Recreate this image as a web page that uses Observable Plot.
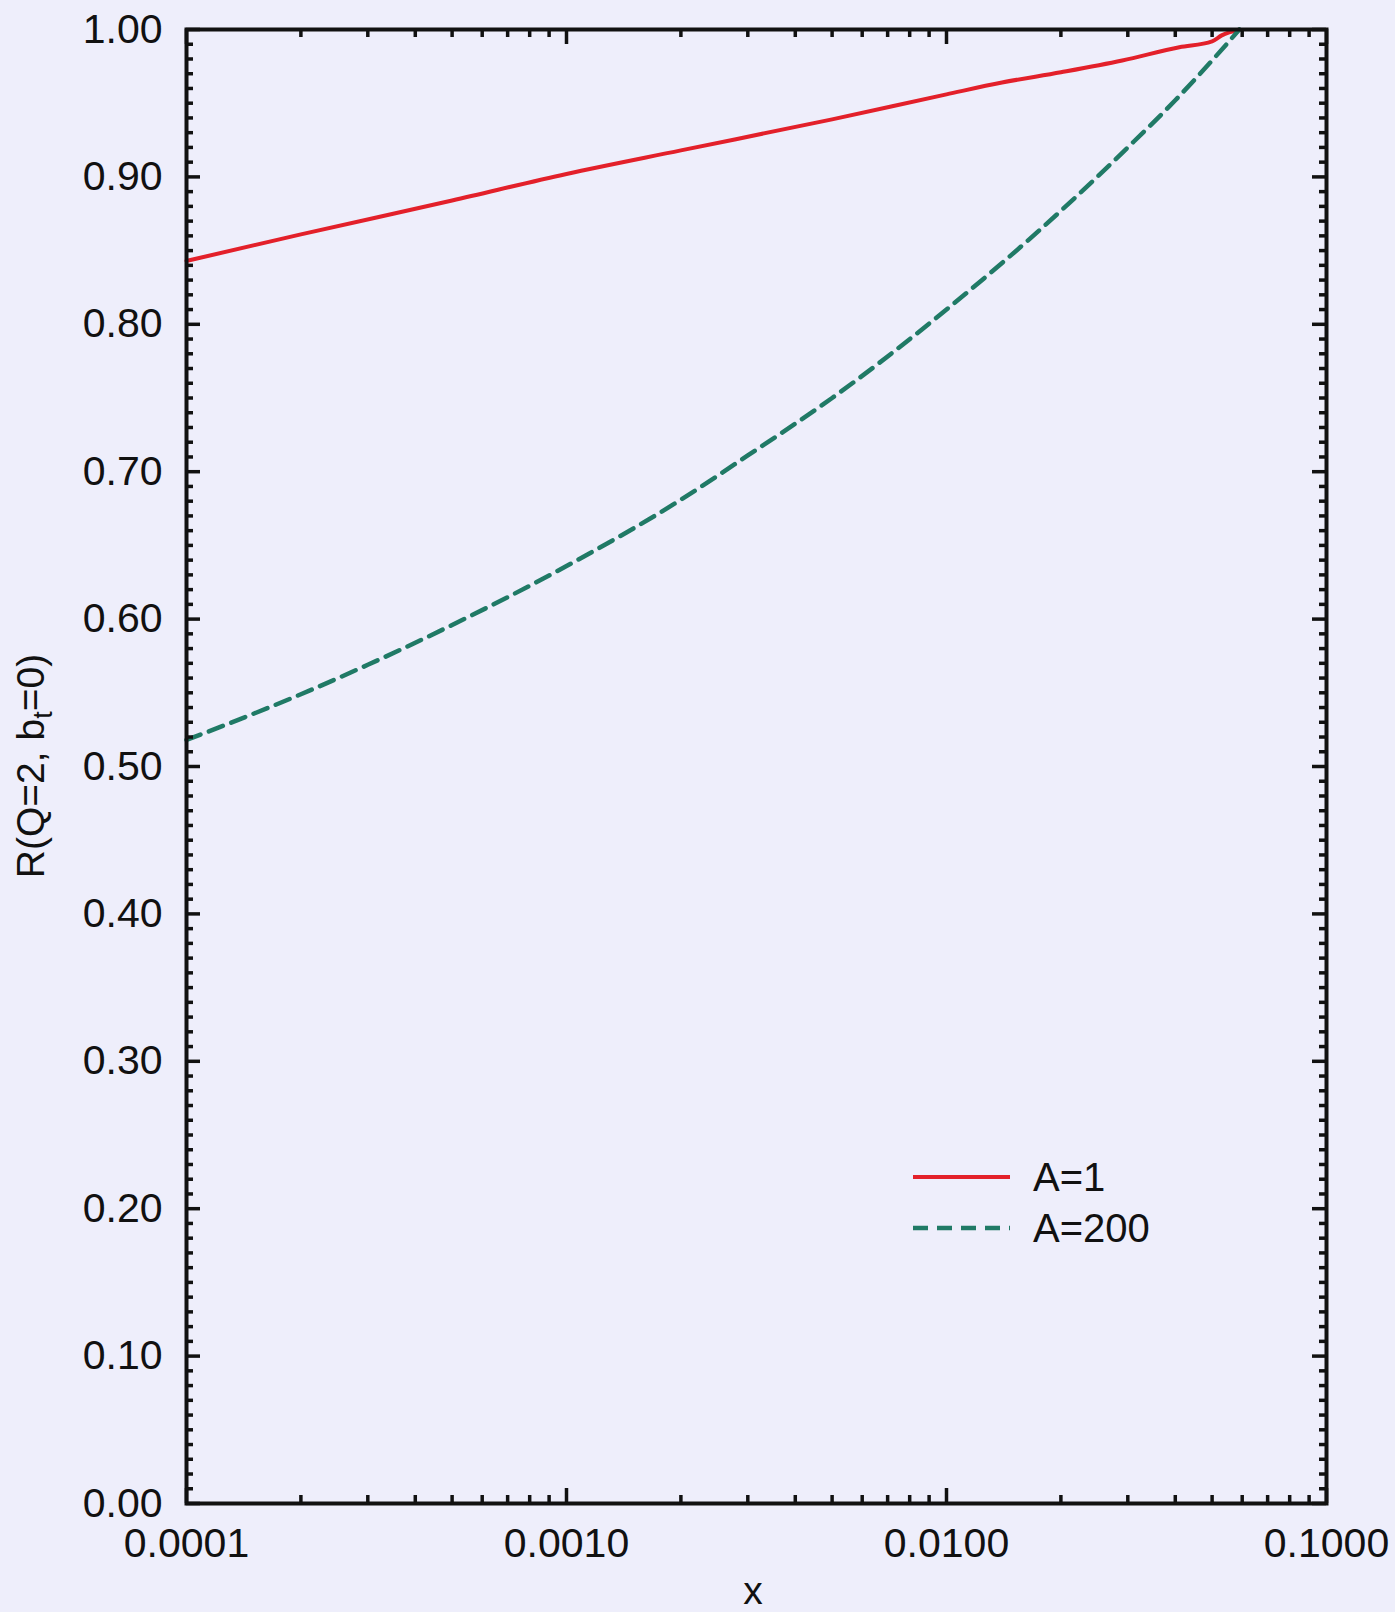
<!DOCTYPE html>
<html>
<head>
<meta charset="utf-8">
<script src="https://cdn.jsdelivr.net/npm/d3@7"></script>
<script src="https://cdn.jsdelivr.net/npm/@observablehq/plot@0.6"></script>
<style>
  html, body { margin: 0; padding: 0; background: #eeeefb; }
  #chart { position: relative; width: 1395px; height: 1612px; }
</style>
</head>
<body>
<div id="chart"></div>
<script>
// ---- data ----
const xA1 = [1e-4, 2e-4, 5e-4, 1e-3, 2e-3, 5e-3, 1e-2, 1.4e-2, 2e-2, 2.9e-2, 4.1e-2, 5e-2, 5.3e-2, 0.059];
const yA1 = [0.843, 0.861, 0.884, 0.902, 0.918, 0.939, 0.956, 0.964, 0.971, 0.979, 0.988, 0.992, 0.996, 1.0];

const xA200 = [1e-4, 2e-4, 3e-4, 5e-4, 1e-3, 2e-3, 3e-3, 5e-3, 1e-2, 2e-2, 3e-2, 4e-2, 5e-2, 0.059];
const yA200 = [0.518, 0.549, 0.569, 0.596, 0.636, 0.681, 0.711, 0.750, 0.810, 0.877, 0.920, 0.952, 0.979, 1.0];

const seriesNames = ["A=1", "A=200"];
const seriesColors = ["#e3202a", "#207a66"];

const xTickValues = [1e-4, 1e-3, 1e-2, 1e-1];
const xTickLabels = ["0.0001", "0.0010", "0.0100", "0.1000"];
const yTickValues = [0, 0.1, 0.2, 0.3, 0.4, 0.5, 0.6, 0.7, 0.8, 0.9, 1.0];
const yTickLabels = ["0.00", "0.10", "0.20", "0.30", "0.40", "0.50", "0.60", "0.70", "0.80", "0.90", "1.00"];

// minor tick positions
const xMinor = [];
for (let e = -4; e < -1; e++) for (let m = 2; m <= 9; m++) xMinor.push(m * Math.pow(10, e));
const yMinor = d3.range(0, 101).map(i => i / 100).filter((v, i) => i % 10 !== 0);

const dataA1 = xA1.map((x, i) => ({x, y: yA1[i]}));
const dataA200 = xA200.map((x, i) => ({x, y: yA200[i]}));

// ---- layout ----
const W = 1395, H = 1612;
const mL = 186, mR = 69, mT = 29, mB = 109;
const pw = W - mL - mR, ph = H - mT - mB;
const font = "'Liberation Sans', Arial, Helvetica, sans-serif";
const fs = 41;

const chart = Plot.plot({
  width: W,
  height: H,
  marginLeft: mL, marginRight: mR, marginTop: mT, marginBottom: mB,
  style: {background: "#eeeefb", fontFamily: font, fontSize: fs + "px", color: "#111"},
  x: {type: "log", domain: [1e-4, 1e-1]},
  y: {domain: [0, 1]},
  marks: [
    // curves
    Plot.line(dataA1, {x: "x", y: "y", stroke: seriesColors[0], strokeWidth: 4, curve: "monotone-x"}),
    Plot.line(dataA200, {x: "x", y: "y", stroke: seriesColors[1], strokeWidth: 4.5, strokeDasharray: "15,9", curve: "monotone-x"}),
    // inward ticks: left
    Plot.tickY(yMinor, {y: d => d, stroke: "#111", strokeWidth: 3.5, insetRight: pw - 7}),
    Plot.tickY(yTickValues, {y: d => d, stroke: "#111", strokeWidth: 3.5, insetRight: pw - 14}),
    // right
    Plot.tickY(yMinor, {y: d => d, stroke: "#111", strokeWidth: 3.5, insetLeft: pw - 7}),
    Plot.tickY(yTickValues, {y: d => d, stroke: "#111", strokeWidth: 3.5, insetLeft: pw - 14}),
    // bottom
    Plot.tickX(xMinor, {x: d => d, stroke: "#111", strokeWidth: 3.5, insetTop: ph - 8}),
    Plot.tickX(xTickValues, {x: d => d, stroke: "#111", strokeWidth: 3.5, insetTop: ph - 15}),
    // top
    Plot.tickX(xMinor, {x: d => d, stroke: "#111", strokeWidth: 3.5, insetBottom: ph - 8}),
    Plot.tickX(xTickValues, {x: d => d, stroke: "#111", strokeWidth: 3.5, insetBottom: ph - 15}),
    // axes labels
    Plot.axisY({ticks: yTickValues, tickFormat: d => yTickLabels[yTickValues.indexOf(d)], tickSize: 0, tickPadding: 24, fontSize: fs, label: null}),
    Plot.axisX({ticks: xTickValues, tickFormat: d => xTickLabels[xTickValues.indexOf(d)], tickSize: 0, tickPadding: 24, fontSize: fs, label: null}),
    Plot.frame({stroke: "#111", strokeWidth: 4})
  ]
});

document.getElementById("chart").appendChild(chart);

const svg = d3.select(chart);
const xs = chart.scale("x"), ys = chart.scale("y");
const cx = (xs.range[0] + xs.range[1]) / 2;
const cy = (ys.range[0] + ys.range[1]) / 2;

// x axis title
svg.append("text")
  .attr("x", cx - 3).attr("y", H - 8)
  .attr("text-anchor", "middle")
  .attr("font-family", font).attr("font-size", 39).attr("fill", "#111")
  .text("x");

// y axis title with subscript
const yt = svg.append("text")
  .attr("transform", `translate(44,${cy}) rotate(-90)`)
  .attr("text-anchor", "middle")
  .attr("font-family", font).attr("font-size", 39).attr("fill", "#111");
yt.append("tspan").text("R(Q=2, b");
yt.append("tspan").attr("font-size", 27).attr("dy", 8).text("t");
yt.append("tspan").attr("dy", -8).text("=0)");

// legend
const lg = svg.append("g").attr("transform", "translate(913,1177)");
seriesNames.forEach((name, i) => {
  const g = lg.append("g").attr("transform", `translate(0,${i * 51})`);
  g.append("line").attr("x1", 0).attr("x2", 97).attr("y1", 0).attr("y2", 0)
    .attr("stroke", seriesColors[i]).attr("stroke-width", i === 1 ? 4.5 : 4)
    .attr("stroke-dasharray", i === 1 ? "15,9" : null);
  g.append("text").attr("x", 120).attr("y", 0).attr("dy", "0.35em")
    .attr("text-anchor", "start")
    .attr("font-family", font).attr("font-size", 40).attr("fill", "#111")
    .text(name);
});
</script>
</body>
</html>
